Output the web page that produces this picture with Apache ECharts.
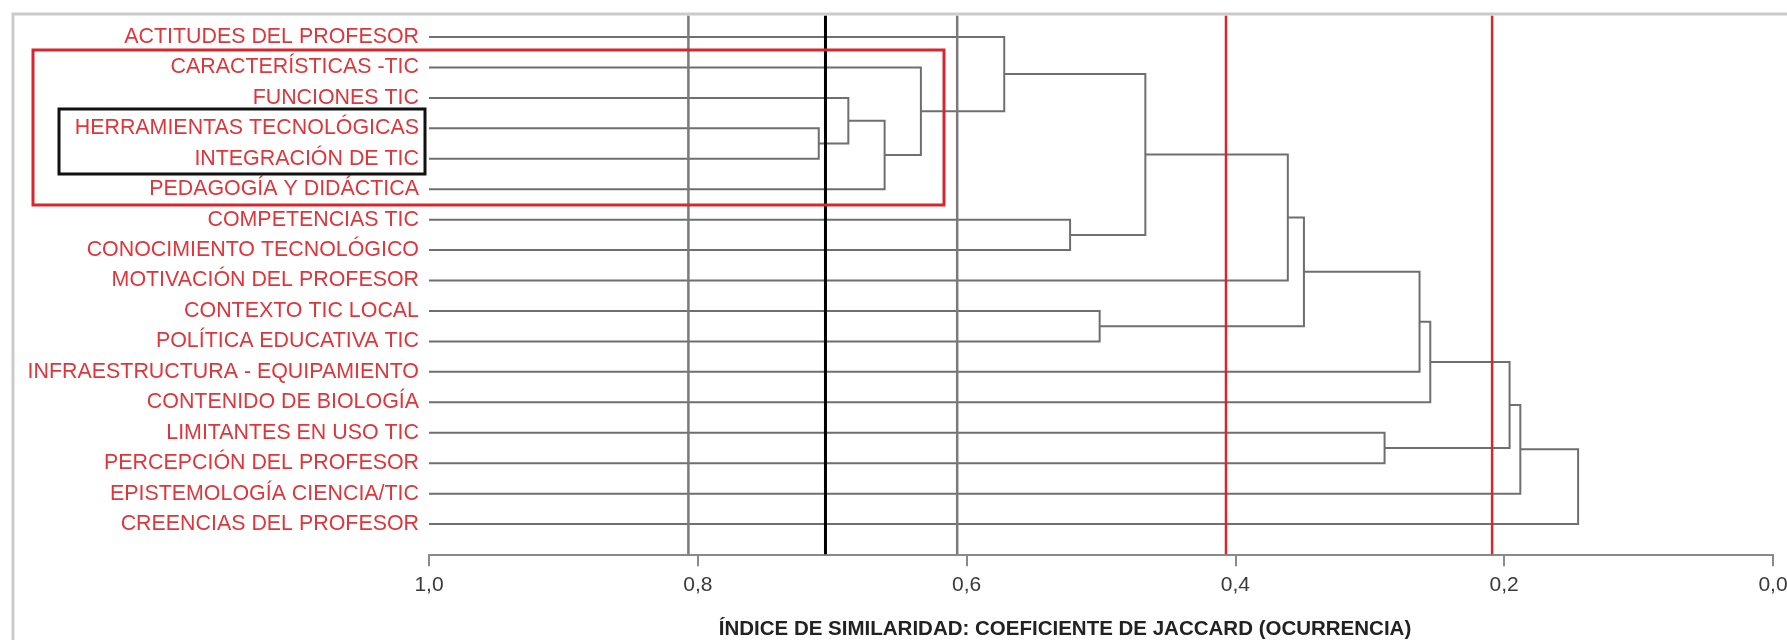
<!DOCTYPE html>
<html>
<head>
<meta charset="utf-8">
<script src="https://cdn.jsdelivr.net/npm/echarts@6/dist/echarts.min.js"></script>
<style>
  html, body { margin: 0; padding: 0; background: #ffffff; }
  #chart { width: 1787px; height: 640px; }
</style>
</head>
<body>
<div id="chart"></div>
<script>
// ---- data ----
const categories = [
  'ACTITUDES DEL PROFESOR',
  'CARACTERÍSTICAS -TIC',
  'FUNCIONES TIC',
  'HERRAMIENTAS TECNOLÓGICAS',
  'INTEGRACIÓN DE TIC',
  'PEDAGOGÍA Y DIDÁCTICA',
  'COMPETENCIAS TIC',
  'CONOCIMIENTO TECNOLÓGICO',
  'MOTIVACIÓN DEL PROFESOR',
  'CONTEXTO TIC LOCAL',
  'POLÍTICA EDUCATIVA TIC',
  'INFRAESTRUCTURA - EQUIPAMIENTO',
  'CONTENIDO DE BIOLOGÍA',
  'LIMITANTES EN USO TIC',
  'PERCEPCIÓN DEL PROFESOR',
  'EPISTEMOLOGÍA CIENCIA/TIC',
  'CREENCIAS DEL PROFESOR'
];
// merge steps: ids < 17 are leaves, id 17+k is merge k
const mergeLeft  = [3, 2, 5, 1, 0, 6, 9, 21, 24, 25, 26, 27, 13, 28, 30, 31];
const mergeRight = [4, 17, 18, 19, 20, 7, 10, 22, 8, 23, 11, 12, 14, 29, 15, 16];
const mergeSimilarity = [0.710, 0.688, 0.661, 0.634, 0.572, 0.523, 0.501, 0.467,
                         0.361, 0.349, 0.263, 0.255, 0.289, 0.196, 0.188, 0.145];
const leafSimilarity = 1.0;
const cutLevels = [0.807, 0.705, 0.607, 0.407, 0.209];
const cutColors = ['#7a7a7a', '#000000', '#7a7a7a', '#d7262e', '#d7262e'];
const axisTitle = 'ÍNDICE DE SIMILARIDAD: COEFICIENTE DE JACCARD (OCURRENCIA)';

// ---- derived node positions (row index) ----
const nLeaf = categories.length;
const nodeRow = categories.map((_, i) => i);
mergeLeft.forEach((a, k) => {
  nodeRow.push((nodeRow[a] + nodeRow[mergeRight[k]]) / 2);
});

const chart = echarts.init(document.getElementById('chart'), null, { renderer: 'canvas' });

function rowToY(api, r) {
  const y0 = api.coord([0, 0])[1];
  const y1 = api.coord([0, 1])[1];
  return y0 + r * (y1 - y0);
}

const LINE = '#6f6f6f';
const FONT = 'Liberation Sans, Arial, sans-serif';

chart.setOption({
  backgroundColor: '#ffffff',
  animation: false,
  grid: { left: 429, right: 14, top: 21.8, height: 517.5, containLabel: false, outerBoundsMode: 'none' },
  xAxis: {
    type: 'value', min: 0, max: 1, interval: 0.2, inverse: true,
    offset: 15,
    axisLine: { show: true, lineStyle: { color: '#8a8a8a', width: 2 } },
    axisTick: { show: true, length: 12, lineStyle: { color: '#8a8a8a', width: 2 } },
    splitLine: { show: false },
    axisLabel: {
      color: '#3a3a3a', fontSize: 21, margin: 20, fontFamily: FONT,
      formatter: v => v.toFixed(1).replace('.', ',')
    },
    name: axisTitle,
    nameLocation: 'middle',
    nameGap: 65,
    nameTextStyle: {
      color: '#222', fontSize: 20.5, fontWeight: 'bold', fontFamily: FONT,
      padding: [0, 72, 0, 0]
    }
  },
  yAxis: {
    type: 'category', inverse: true, data: categories,
    axisLine: { show: false }, axisTick: { show: false }, splitLine: { show: false },
    axisLabel: { color: '#e0353b', fontSize: 21.4, margin: 10, fontFamily: FONT }
  },
  series: [
    {
      type: 'custom',
      clip: false,
      z: 2,
      encode: { x: 0, y: 1 },
      data: mergeSimilarity.map((s, k) => [s, nodeRow[nLeaf + k]]),
      renderItem: function (params, api) {
        const k = params.dataIndex;
        const childX = id => api.coord([id < nLeaf ? leafSimilarity : mergeSimilarity[id - nLeaf], 0])[0];
        const a = mergeLeft[k], b = mergeRight[k];
        const xm = api.coord([mergeSimilarity[k], 0])[0];
        const ya = rowToY(api, nodeRow[a]);
        const yb = rowToY(api, nodeRow[b]);
        return {
          type: 'polyline',
          shape: { points: [[childX(a), ya], [xm, ya], [xm, yb], [childX(b), yb]] },
          style: { stroke: LINE, lineWidth: 2, fill: null }
        };
      }
    },
    {
      type: 'custom',
      clip: false,
      z: 3,
      encode: { x: 0, y: 1 },
      data: cutLevels.map(v => [v, 0]),
      renderItem: function (params, api) {
        const cs = params.coordSys;
        const x = api.coord([api.value(0), 0])[0];
        const isBlack = cutColors[params.dataIndex] === '#000000';
        return {
          type: 'line',
          shape: { x1: x, y1: cs.y - 6, x2: x, y2: cs.y + cs.height + 15 },
          style: { stroke: cutColors[params.dataIndex], lineWidth: isBlack ? 3 : 2.5 }
        };
      }
    }
  ],
  graphic: [
    { type: 'rect', z: 0, shape: { x: 13, y: 14, width: 1900, height: 800 },
      style: { stroke: '#cbcbcb', lineWidth: 3, fill: null } },
    { type: 'rect', z: 10, shape: { x: 33, y: 50, width: 911, height: 155 },
      style: { stroke: '#d7262e', lineWidth: 3, fill: null } },
    { type: 'rect', z: 10, shape: { x: 59, y: 109, width: 366, height: 65 },
      style: { stroke: '#111111', lineWidth: 3, fill: null } }
  ]
});
</script>
</body>
</html>
